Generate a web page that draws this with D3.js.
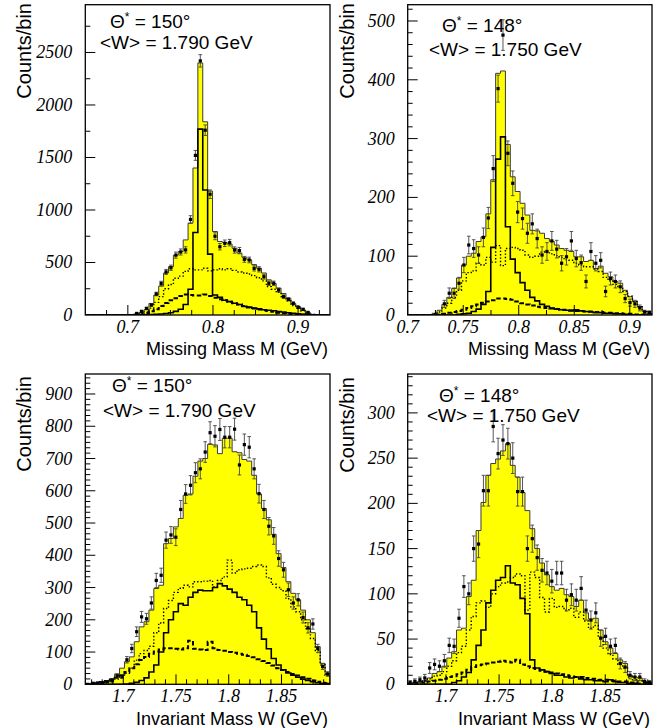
<!DOCTYPE html>
<html>
<head>
<meta charset="utf-8">
<script src="https://cdn.jsdelivr.net/npm/d3@7"></script>
<style>
  html, body { margin: 0; padding: 0; background: #fff; }
  svg { display: block; }
</style>
</head>
<body>
<svg id="chart" width="672" height="728"></svg>
<script>
// ---------- Missing mass, theta* = 150 deg, <W> = 1.790 GeV (50 bins) ----------
const mm150Range = [0.65, 0.9375];
const mm150Total = [0,0,0,0,0,0,0,0,0,2, 8,25,50,110,190,275,400,460,570,605,
  715,875,1400,2400,1840,1180,795,700,690,675, 635,590,550,525,480,445,400,335,300,255,
  205,160,110,80,48,22,6,2,0,0];
const mm150Omega = [0,0,0,0,0,0,0,0,0,0, 0,0,2,4,7,10,15,22,35,55,
  100,245,785,1770,1190,580,190,168,140,127, 112,100,82,75,65,58,50,45,40,34,
  28,22,16,11,7,4,2,0,0,0];
const mm150Dotted = [0,0,0,0,0,0,0,0,0,0, 4,14,30,65,120,175,250,290,350,370,
  415,440,430,430,445,420,430,440,430,440, 425,410,400,390,375,355,325,270,245,215,
  175,135,90,65,40,18,5,2,0,0];
const mm150Dashed = [0,0,0,0,0,0,0,0,0,0, 2,8,18,35,55,85,115,140,160,180,
  195,190,185,185,195,180,165,150,140,125, 112,100,85,72,62,52,45,38,30,22,
  16,11,7,4,2,1,0,0,0,0];
const mm150Data = [null,null,null,null,null,null,null,null,null,null, 15,35,63,95,200,300,410,450,570,600,
  620,910,1520,2420,1760,1150,750,650,683,689, 619,613,530,524,444,435,365,302,302,238,
  175,149,111,73,54,25,null,null,null,null];
const mm150Err = [null,null,null,null,null,null,null,null,null,null, 5,7,10,12,17,21,24,25,29,29,
  30,36,47,59,50,41,33,31,31,31, 30,30,28,27,25,25,23,21,21,19,
  16,15,13,10,9,6,null,null,null,null];
const mm150XTicks = [0.7, 0.8, 0.9];
const mm150YTicks = [0, 500, 1000, 1500, 2000, 2500];

// ---------- Missing mass, theta* = 148 deg, <W> = 1.750 GeV ----------
const mm148Range = [0.7, 0.92];
const mm148Total = [0,0,0,0,0,3,8,18,30,45, 63,85,100,105,125,133,172,230,411,415,
  290,235,210,190,170,144,143,139,130,125, 119,113,110,108,99,99,91,93,79,83,
  71,65,57,54,42,31,23,14,6,2];
const mm148Omega = [0,0,0,0,0,0,0,0,0,0, 1,2,3,6,10,18,40,115,265,303,
  150,95,72,55,42,30,24,18,15,12, 10,9,8,7,9,7,6,5,4,4,
  3,3,2,2,1,0,0,0,0,0];
const mm148Dotted = [0,0,0,0,0,2,5,12,20,30, 42,58,72,75,88,85,98,90,118,84,
  113,115,113,110,102,98,100,107,108,104, 101,98,94,93,88,85,82,82,78,74,
  64,58,52,47,40,32,23,14,6,2];
const mm148Dashed = [0,0,0,0,0,0,1,2,4,5, 7,9,12,15,18,21,23,25,28,28,
  27,26,23,20,18,16,14,13,12,11, 10,9,9,8,7,7,6,6,5,5,
  4,4,3,3,2,2,1,1,0,0];
const mm148Data = [null,null,null,null,null,null,null,19,37,37, 54,85,119,113,102,132,165,249,385,476,
  275,224,175,164,139,155,130,102,108,126, 112,88,99,126,96,89,57,108,88,93,
  40,62,57,48,28,21,19,12,5,4];
const mm148Err = [null,null,null,null,null,null,null,6,9,9, 10,13,15,15,14,16,18,22,23,26,
  21,21,18,18,17,17,16,14,15,16, 15,13,14,16,14,13,11,15,13,13,
  9,11,11,10,7,6,6,5,3,3];
const mm148XTicks = [0.7, 0.75, 0.8, 0.85, 0.9];
const mm148YTicks = [0, 100, 200, 300, 400, 500];

// ---------- Invariant mass, theta* = 150 deg ----------
const w150Range = [1.664, 1.896];
const w150Total = [1,3,5,8,8,18,32,50,70,85, 132,178,194,230,297,307,436,452,488,514,
  586,590,645,692,700,744,742,715,763,763, 721,718,697,692,648,590,545,510,465,405,
  362,318,282,262,230,200,160,117,65,34];
const w150Omega = [0,0,0,0,0,0,0,0,1,3, 6,12,20,38,60,100,160,200,225,250,
  245,270,285,292,290,290,300,312,305,295, 285,270,262,245,225,175,140,110,80,60,
  45,35,28,22,16,12,8,5,3,2];
const w150Dotted = [1,2,4,5,7,10,16,24,34,50, 75,95,105,118,160,190,235,260,285,298,
  307,302,318,318,320,322,302,322,333,385, 345,355,358,360,365,370,365,330,310,300,
  290,265,240,225,200,172,142,105,60,28];
const w150Dashed = [2,3,5,7,10,14,20,28,38,50, 62,75,85,95,102,108,112,112,110,108,
  112,135,110,108,106,132,112,106,104,100, 98,95,92,88,84,78,72,66,58,50,
  44,38,32,27,22,17,12,8,5,3];
const w150Data = [null,3,4,5,8,11,26,24,76,111, 163,209,203,252,322,338,447,463,456,542,
  590,617,656,668,720,780,769,790,766,766, 791,680,743,735,668,591,542,490,460,390,
  355,293,252,262,207,175,187,111,55,32];
const w150Err = [null,2,2,3,3,4,6,6,10,13, 15,17,17,19,22,22,25,26,26,28,
  29,30,31,31,32,34,33,34,33,33, 34,31,33,33,31,29,28,27,26,24,
  23,21,19,19,17,16,16,13,9,7];
const w150XTicks = [1.7, 1.75, 1.8, 1.85];
const w150YTicks = [0, 100, 200, 300, 400, 500, 600, 700, 800, 900];

// ---------- Invariant mass, theta* = 148 deg ----------
const w148Range = [1.664, 1.894];
const w148Total = [1,2,3,4,7,12,14,20,29,36, 60,62,97,115,170,201,231,244,249,258,
  266,242,229,212,192,172,150,134,121,108, 104,106,99,97,86,93,79,72,73,60,
  47,40,34,27,23,10,8,7,3,2];
const w148Omega = [0,0,0,0,0,0,0,0,0,2, 4,8,13,27,43,60,90,104,115,118,
  131,112,110,95,78,27,18,16,14,12, 10,10,8,7,8,6,5,5,4,4,
  3,5,3,2,2,1,1,0,0,0];
const w148Dotted = [1,2,3,4,6,9,10,14,20,26, 35,42,60,75,90,92,85,100,108,112,
  113,118,122,120,82,124,118,96,80,95, 85,86,82,84,74,80,70,62,65,52,
  40,33,28,22,18,8,5,4,2,1];
const w148Dashed = [1,1,2,2,3,4,5,6,8,9, 11,13,16,19,21,22,23,24,25,26,
  25,24,27,22,20,18,17,15,14,13, 12,11,10,9,8,8,7,6,6,5,
  5,4,4,3,3,2,2,1,1,0];
const w148Data = [2,3,5,7,18,22,20,26,43,42, 73,108,100,150,155,214,214,285,255,270,
  266,250,213,213,150,161,140,126,123,114, 123,123,93,99,93,106,82,71,79,51,
  53,42,43,23,19,10,8,8,3,2];
const w148Err = [2,3,3,4,6,6,6,7,8,8, 10,12,12,14,15,17,17,17,17,17,
  17,17,16,16,14,15,14,13,13,13, 13,13,12,12,12,13,11,10,11,9,
  9,8,8,6,6,4,4,4,3,2];
const w148XTicks = [1.7, 1.75, 1.8, 1.85];
const w148YTicks = [0, 50, 100, 150, 200, 250, 300];

// ---------- panel layout ----------
const panels = [
  { key: "mm150", box: { l: 85.3, t: 4.7, r: 330, b: 315 }, range: mm150Range, yMax: 2955,
    total: mm150Total, omega: mm150Omega, dotted: mm150Dotted, dashed: mm150Dashed,
    data: mm150Data, err: mm150Err, xTicks: mm150XTicks, yTicks: mm150YTicks,
    xMinor: 0.025, yMinor: 250, xTitle: "Missing Mass M (GeV)",
    theta: "150", wMean: "1.790", noteX: [110, 100], noteY: [28, 49],
    yTitleY: 3, xTitleY: 355, labelY: 333 },
  { key: "mm148", box: { l: 407.7, t: 4.7, r: 652, b: 315 }, range: mm148Range, yMax: 527.7,
    total: mm148Total, omega: mm148Omega, dotted: mm148Dotted, dashed: mm148Dashed,
    data: mm148Data, err: mm148Err, xTicks: mm148XTicks, yTicks: mm148YTicks,
    xMinor: 0.025, yMinor: 20, xTitle: "Missing Mass M (GeV)",
    theta: "148", wMean: "1.750", noteX: [442, 429], noteY: [32, 56],
    yTitleY: 3, xTitleY: 355, labelY: 333 },
  { key: "w150", box: { l: 85.3, t: 374, r: 330, b: 684.3 }, range: w150Range, yMax: 962,
    total: w150Total, omega: w150Omega, dotted: w150Dotted, dashed: w150Dashed,
    data: w150Data, err: w150Err, xTicks: w150XTicks, yTicks: w150YTicks,
    xMinor: 0.01, yMinor: 100 / 6, xTitle: "Invariant Mass W (GeV)",
    theta: "150", wMean: "1.790", noteX: [112, 103], noteY: [392, 417],
    yTitleY: 376, xTitleY: 725, labelY: 702 },
  { key: "w148", box: { l: 407.7, t: 374, r: 652, b: 684.3 }, range: w148Range, yMax: 343,
    total: w148Total, omega: w148Omega, dotted: w148Dotted, dashed: w148Dashed,
    data: w148Data, err: w148Err, xTicks: w148XTicks, yTicks: w148YTicks,
    xMinor: 0.01, yMinor: 10, xTitle: "Invariant Mass W (GeV)",
    theta: "148", wMean: "1.750", noteX: [439, 427], noteY: [402, 422],
    yTitleY: 377, xTitleY: 725, labelY: 702 }
];

const svg = d3.select("#chart");

// minor tick positions on a regular grid inside the domain, skipping the majors
function minorValues(domain, step, majors) {
  const out = [];
  const k0 = Math.ceil(domain[0] / step - 1e-6), k1 = Math.floor(domain[1] / step + 1e-6);
  for (let k = k0; k <= k1; k++) {
    const v = k * step;
    if (v <= domain[0] + 1e-9 || v >= domain[1] - 1e-9) continue;
    if (majors.some(m => Math.abs(m - v) < step * 1e-3)) continue;
    out.push(v);
  }
  return out;
}

// italic serif numerals used on both axes
function tickText(sel) {
  return sel.attr("font-family", "'Liberation Serif', 'DejaVu Serif', serif")
    .attr("font-style", "italic").attr("font-size", 18).attr("fill", "#000");
}

function drawPanel(p) {
  const { l, t, r, b } = p.box;
  const x = d3.scaleLinear().domain(p.range).range([l, r]);
  const y = d3.scaleLinear().domain([0, p.yMax]).range([b, t]);
  const n = p.total.length;
  const w = (p.range[1] - p.range[0]) / n;
  const edge = i => p.range[0] + i * w;

  const g = svg.append("g").attr("class", "panel-" + p.key);
  const clipId = "clip-" + p.key;
  g.append("clipPath").attr("id", clipId)
    .append("rect").attr("x", l).attr("y", t).attr("width", r - l).attr("height", b - t);
  const plot = g.append("g").attr("clip-path", `url(#${clipId})`);

  // histogram as step points: start at zero, one point per bin, close at last edge
  const stepPts = vals => {
    const pts = [[edge(0), 0]];
    vals.forEach((v, i) => pts.push([edge(i), v]));
    pts.push([edge(n), vals[n - 1]]);
    pts.push([edge(n), 0]);
    return pts;
  };
  const stepLine = d3.line().x(d => x(d[0])).y(d => y(d[1])).curve(d3.curveStepAfter);
  const fillPts = p.total.map((v, i) => [edge(i), v]).concat([[edge(n), p.total[n - 1]]]);
  const stepArea = d3.area().x(d => x(d[0])).y0(y(0)).y1(d => y(d[1])).curve(d3.curveStepAfter);

  plot.append("path").attr("d", stepArea(fillPts)).attr("fill", "#ffff00").attr("stroke", "none");
  plot.append("path").attr("d", stepLine(stepPts(p.total)))
    .attr("fill", "none").attr("stroke", "#3a3a3a").attr("stroke-width", 1);

  plot.append("path").attr("d", stepLine(stepPts(p.dotted)))
    .attr("fill", "none").attr("stroke", "#000").attr("stroke-width", 1.4)
    .attr("stroke-dasharray", "1.4,2");
  plot.append("path").attr("d", stepLine(stepPts(p.dashed)))
    .attr("fill", "none").attr("stroke", "#000").attr("stroke-width", 2)
    .attr("stroke-dasharray", "4.5,2.5");
  plot.append("path").attr("d", stepLine(stepPts(p.omega)))
    .attr("fill", "none").attr("stroke", "#000").attr("stroke-width", 1.6);

  // data points with error bars, placed at bin centres
  const pts = p.data.map((v, i) => ({ v, e: p.err[i], c: edge(i) + w / 2 })).filter(d => d.v != null);
  const eb = plot.append("g").attr("stroke", "#444").attr("stroke-width", 0.9);
  pts.forEach(d => {
    const cx = x(d.c), y1 = y(d.v + d.e), y0 = y(Math.max(0, d.v - d.e));
    eb.append("line").attr("x1", cx).attr("x2", cx).attr("y1", y0).attr("y2", y1);
    eb.append("line").attr("x1", cx - 1.8).attr("x2", cx + 1.8).attr("y1", y1).attr("y2", y1);
    eb.append("line").attr("x1", cx - 1.8).attr("x2", cx + 1.8).attr("y1", y0).attr("y2", y0);
  });
  plot.append("g").selectAll("rect").data(pts).join("rect")
    .attr("x", d => x(d.c) - 1.6).attr("y", d => y(d.v) - 1.6)
    .attr("width", 3.2).attr("height", 3.2).attr("fill", "#000");

  // frame
  g.append("rect").attr("x", l).attr("y", t).attr("width", r - l).attr("height", b - t)
    .attr("fill", "none").attr("stroke", "#000").attr("stroke-width", 1.3);

  // ticks drawn inward from the bottom and left edges
  const tk = g.append("g").attr("stroke", "#000").attr("stroke-width", 1);
  p.xTicks.forEach(v => tk.append("line").attr("x1", x(v)).attr("x2", x(v)).attr("y1", b).attr("y2", b - 10));
  minorValues(p.range, p.xMinor, p.xTicks).forEach(v =>
    tk.append("line").attr("x1", x(v)).attr("x2", x(v)).attr("y1", b).attr("y2", b - 5));
  p.yTicks.filter(v => v > 0).forEach(v => tk.append("line").attr("x1", l).attr("x2", l + 10).attr("y1", y(v)).attr("y2", y(v)));
  minorValues([0, p.yMax], p.yMinor, p.yTicks).forEach(v =>
    tk.append("line").attr("x1", l).attr("x2", l + 5).attr("y1", y(v)).attr("y2", y(v)));

  // tick labels
  g.append("g").selectAll("text").data(p.xTicks).join("text")
    .call(tickText)
    .attr("x", d => x(d)).attr("y", p.labelY)
    .attr("text-anchor", "middle").text(d => String(d));
  g.append("g").selectAll("text").data(p.yTicks).join("text")
    .call(tickText)
    .attr("x", l - 13).attr("y", d => y(d) + 6)
    .attr("text-anchor", "end").text(d => String(d));

  const SANS = "Liberation Sans";
  // axis titles
  g.append("text").attr("font-family", SANS).attr("font-size", 18)
    .attr("x", r - 2).attr("y", p.xTitleY).attr("text-anchor", "end").text(p.xTitle);
  g.append("text").attr("font-family", SANS).attr("font-size", 20)
    .attr("transform", `translate(${l - 54},${p.yTitleY}) rotate(-90)`)
    .attr("text-anchor", "end").text("Counts/bin");

  // kinematic annotation
  const th = g.append("text").attr("font-family", SANS).attr("font-size", 19)
    .attr("x", p.noteX[0]).attr("y", p.noteY[0]);
  th.append("tspan").text("\u0398");
  th.append("tspan").attr("font-size", 12).attr("dy", -7).text("*");
  th.append("tspan").attr("dy", 7).text(" = " + p.theta + "\u00b0");
  g.append("text").attr("font-family", SANS).attr("font-size", 19)
    .attr("x", p.noteX[1]).attr("y", p.noteY[1])
    .text("<W> = " + p.wMean + " GeV");
}

panels.forEach(drawPanel);
</script>
</body>
</html>
